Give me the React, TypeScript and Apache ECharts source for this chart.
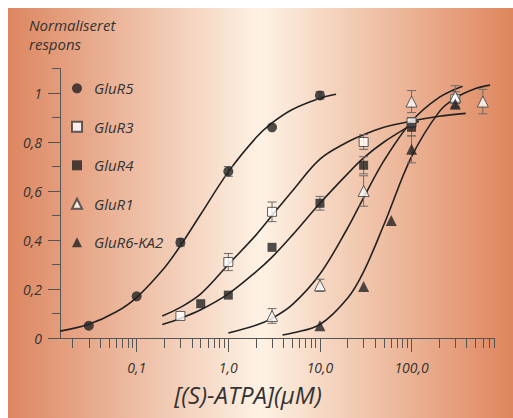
import React, { useEffect, useRef } from "react";
import * as echarts from "echarts";

// ---------- data (concentration in µM, normalised response) ----------
const seriesNames = ["GluR5", "GluR3", "GluR4", "GluR1", "GluR6-KA2"];

const glur5Conc = [0.03, 0.1, 0.3, 1, 3, 10];
const glur5Resp = [0.05, 0.17, 0.39, 0.68, 0.86, 0.99];
const glur5Err = [0, 0, 0.015, 0.02, 0, 0.015];

const glur3Conc = [0.3, 1, 3, 30, 100, 300];
const glur3Resp = [0.09, 0.31, 0.515, 0.8, 0.88, 0.975];
const glur3Err = [0, 0.035, 0.04, 0.03, 0.02, 0.03];

const glur4Conc = [0.5, 1, 3, 10, 30, 100];
const glur4Resp = [0.14, 0.175, 0.37, 0.55, 0.705, 0.86];
const glur4Err = [0, 0, 0, 0.028, 0.035, 0.035];

const glur1Conc = [3, 10, 30, 100, 300, 600];
const glur1Resp = [0.09, 0.215, 0.6, 0.965, 0.985, 0.965];
const glur1Err = [0.03, 0.025, 0.062, 0.045, 0.045, 0.05];

const glur6Conc = [10, 30, 60, 100, 300];
const glur6Resp = [0.05, 0.21, 0.48, 0.77, 0.955];
const glur6Err = [0, 0, 0, 0.055, 0.02];

// fitted curves
const glur5CurveConc = [0.01455, 0.03, 0.06, 0.1, 0.2, 0.3, 0.5, 1, 2, 3, 5, 10, 15];
const glur5CurveResp = [0.028, 0.056, 0.107, 0.166, 0.286, 0.377, 0.505, 0.678, 0.817, 0.878, 0.933, 0.979, 0.995];

const glur3CurveConc = [0.19, 0.3, 0.5, 1, 2, 3, 5, 10, 20, 30, 50, 100, 200, 390];
const glur3CurveResp = [0.09, 0.125, 0.18, 0.3, 0.42, 0.5, 0.6, 0.73, 0.8, 0.83, 0.86, 0.885, 0.905, 0.917];

const glur4CurveConc = [0.19, 0.3, 0.5, 1, 2, 3, 5, 10, 20, 30, 50, 100, 120];
const glur4CurveResp = [0.055, 0.08, 0.115, 0.18, 0.27, 0.33, 0.42, 0.55, 0.67, 0.735, 0.8, 0.87, 0.885];

const glur1CurveConc = [1, 2, 3, 5, 10, 20, 30, 50, 100, 200, 360];
const glur1CurveResp = [0.02, 0.052, 0.08, 0.136, 0.261, 0.448, 0.573, 0.724, 0.884, 0.982, 1.028];

const glur6CurveConc = [3.9, 5, 10, 20, 30, 50, 100, 200, 300, 500, 720];
const glur6CurveResp = [0.012, 0.02, 0.055, 0.162, 0.271, 0.463, 0.74, 0.923, 0.979, 1.018, 1.032];

// axis ticks
const xMinorTicks = [
  0.02, 0.03, 0.04, 0.05, 0.06, 0.07, 0.08, 0.09,
  0.2, 0.3, 0.4, 0.5, 0.6, 0.7, 0.8, 0.9,
  2, 3, 4, 5, 6, 7, 8, 9,
  20, 30, 40, 50, 60, 70, 80, 90,
  200, 300, 400, 500, 600, 700, 800,
];
const xDecadeTicks = [0.1, 1, 10, 100];
const xMin = 0.01455;
const xMax = 800;
const yMinorTicks = [0.1, 0.3, 0.5, 0.7, 0.9, 1.1];
const yMajorTicks = [0, 0.2, 0.4, 0.6, 0.8, 1];
const yMin = 0;
const yMax = 1.1;

const FONT = '"Open Sans", "Liberation Sans", sans-serif';
const TEXT = "#333333";
const AXIS = "#555555";
const INK = "#222222";

const lg = (v: number) => Math.log10(v);
const comma = (s: string) => s.replace(".", ",");

export default function App() {
  const ref = useRef<HTMLDivElement>(null);

  useEffect(() => {
    if (!ref.current) return;
    const chart = echarts.init(ref.current, undefined, { renderer: "svg" });

    const groups = [
      { name: seriesNames[0], conc: glur5Conc, resp: glur5Resp, err: glur5Err, cc: glur5CurveConc, cr: glur5CurveResp, symbol: "circle", size: 10, open: false },
      { name: seriesNames[1], conc: glur3Conc, resp: glur3Resp, err: glur3Err, cc: glur3CurveConc, cr: glur3CurveResp, symbol: "rect", size: 9, open: true },
      { name: seriesNames[2], conc: glur4Conc, resp: glur4Resp, err: glur4Err, cc: glur4CurveConc, cr: glur4CurveResp, symbol: "rect", size: 9, open: false },
      { name: seriesNames[3], conc: glur1Conc, resp: glur1Resp, err: glur1Err, cc: glur1CurveConc, cr: glur1CurveResp, symbol: "triangle", size: 11, open: true },
      { name: seriesNames[4], conc: glur6Conc, resp: glur6Resp, err: glur6Err, cc: glur6CurveConc, cr: glur6CurveResp, symbol: "triangle", size: 11, open: false },
    ];

    const series: any[] = [];
    groups.forEach((g) => {
      series.push({
        type: "line",
        name: g.name + " fit",
        xAxisIndex: 0,
        yAxisIndex: 0,
        data: g.cc.map((c, i) => [lg(c), g.cr[i]]),
        showSymbol: false,
        smooth: 0.35,
        silent: true,
        z: 1,
        lineStyle: { color: INK, width: 1.6 },
      });
    });
    groups.forEach((g) => {
      const errData: number[][] = [];
      g.conc.forEach((c, i) => {
        if (g.err[i] > 0) errData.push([lg(c), g.resp[i] - g.err[i], g.resp[i] + g.err[i]]);
      });
      series.push({
        type: "custom",
        name: g.name + " err",
        xAxisIndex: 0,
        yAxisIndex: 0,
        silent: true,
        z: 2,
        encode: { x: 0, y: [1, 2] },
        data: errData,
        renderItem: (_p: any, api: any) => {
          const x = api.value(0);
          const top = api.coord([x, api.value(2)]);
          const bot = api.coord([x, api.value(1)]);
          const h = 4.5;
          const st = { stroke: "#6a6a6a", lineWidth: 1 };
          return {
            type: "group",
            children: [
              { type: "line", shape: { x1: top[0], y1: top[1], x2: bot[0], y2: bot[1] }, style: st },
              { type: "line", shape: { x1: top[0] - h, y1: top[1], x2: top[0] + h, y2: top[1] }, style: st },
              { type: "line", shape: { x1: bot[0] - h, y1: bot[1], x2: bot[0] + h, y2: bot[1] }, style: st },
            ],
          };
        },
      });
    });
    groups.forEach((g) => {
      series.push({
        type: "scatter",
        name: g.name,
        xAxisIndex: 0,
        yAxisIndex: 0,
        z: 3,
        symbol: g.symbol,
        symbolSize: g.size,
        data: g.conc.map((c, i) => [lg(c), g.resp[i]]),
        itemStyle: g.open
          ? { color: "#ffffff", borderColor: "#3a3a3a", borderWidth: 1 }
          : { color: INK, borderWidth: 0 },
      });
    });

    const labelStyle = { fontSize: 14, fontStyle: "italic", color: TEXT, fontFamily: FONT };

    chart.setOption({
      animation: false,
      grid: { left: 52, right: 18.7, top: 60.5, bottom: 80 },
      xAxis: [
        {
          type: "value",
          min: lg(xMin),
          max: lg(xMax),
          position: "bottom",
          axisLine: { show: true, onZero: false, lineStyle: { color: AXIS, width: 1 } },
          axisTick: { show: true, customValues: xMinorTicks.map(lg), length: 10, lineStyle: { color: AXIS } },
          axisLabel: { show: false },
          splitLine: { show: false },
        },
        {
          type: "value",
          min: lg(xMin),
          max: lg(xMax),
          position: "bottom",
          axisLine: { show: false, onZero: false },
          axisTick: { show: true, customValues: xDecadeTicks.map(lg), length: 14, lineStyle: { color: AXIS } },
          axisLabel: {
            show: true,
            customValues: xDecadeTicks.map(lg),
            margin: 22,
            formatter: (v: number) => comma(Math.pow(10, v).toFixed(1)),
            ...labelStyle,
          },
          splitLine: { show: false },
        },
      ],
      yAxis: [
        {
          type: "value",
          min: yMin,
          max: yMax,
          position: "left",
          axisLine: { show: true, onZero: false, lineStyle: { color: AXIS, width: 1 } },
          axisTick: { show: true, customValues: yMinorTicks, length: 8, lineStyle: { color: AXIS } },
          axisLabel: { show: false },
          splitLine: { show: false },
        },
        {
          type: "value",
          min: yMin,
          max: yMax,
          position: "left",
          axisLine: { show: false, onZero: false },
          axisTick: { show: true, customValues: yMajorTicks, length: 12, lineStyle: { color: AXIS } },
          axisLabel: {
            show: true,
            customValues: yMajorTicks,
            margin: 18,
            formatter: (v: number) => (v === 0 ? "0" : v === 1 ? "1" : comma(v.toFixed(1))),
            ...labelStyle,
          },
          splitLine: { show: false },
        },
      ],
      legend: {
        orient: "vertical",
        left: 63,
        top: 72.3,
        padding: 0,
        itemWidth: 10,
        itemHeight: 10,
        itemGap: 22.5,
        selectedMode: false,
        data: seriesNames,
        textStyle: { ...labelStyle, fontSize: 15, lineHeight: 16, padding: [0, 0, 0, 7] },
      },
      graphic: [
        {
          type: "rect",
          silent: true,
          z: -100,
          shape: { x: 0, y: 0, width: 505, height: 410 },
          style: {
            fill: new echarts.graphic.LinearGradient(0, 0, 1, 0, [
              { offset: 0, color: "#dd8660" },
              { offset: 0.5, color: "#fef2e4" },
              { offset: 1, color: "#de865d" },
            ]),
          },
        },
        {
          type: "text",
          x: 21,
          y: 7,
          silent: true,
          style: {
            text: "Normaliseret\nrespons",
            font: `italic 15px ${FONT}`,
            fill: TEXT,
            lineHeight: 19,
          },
        },
        {
          type: "text",
          x: 240,
          y: 386,
          silent: true,
          style: {
            text: "[(S)-ATPA](μM)",
            font: `italic 24px ${FONT}`,
            fill: TEXT,
            align: "center",
            verticalAlign: "middle",
          },
        },
      ],
      series,
    });

    return () => chart.dispose();
  }, []);

  return (
    <div
      ref={ref}
      style={{ position: "absolute", left: 8, top: 8, width: 505, height: 410 }}
    />
  );
}
